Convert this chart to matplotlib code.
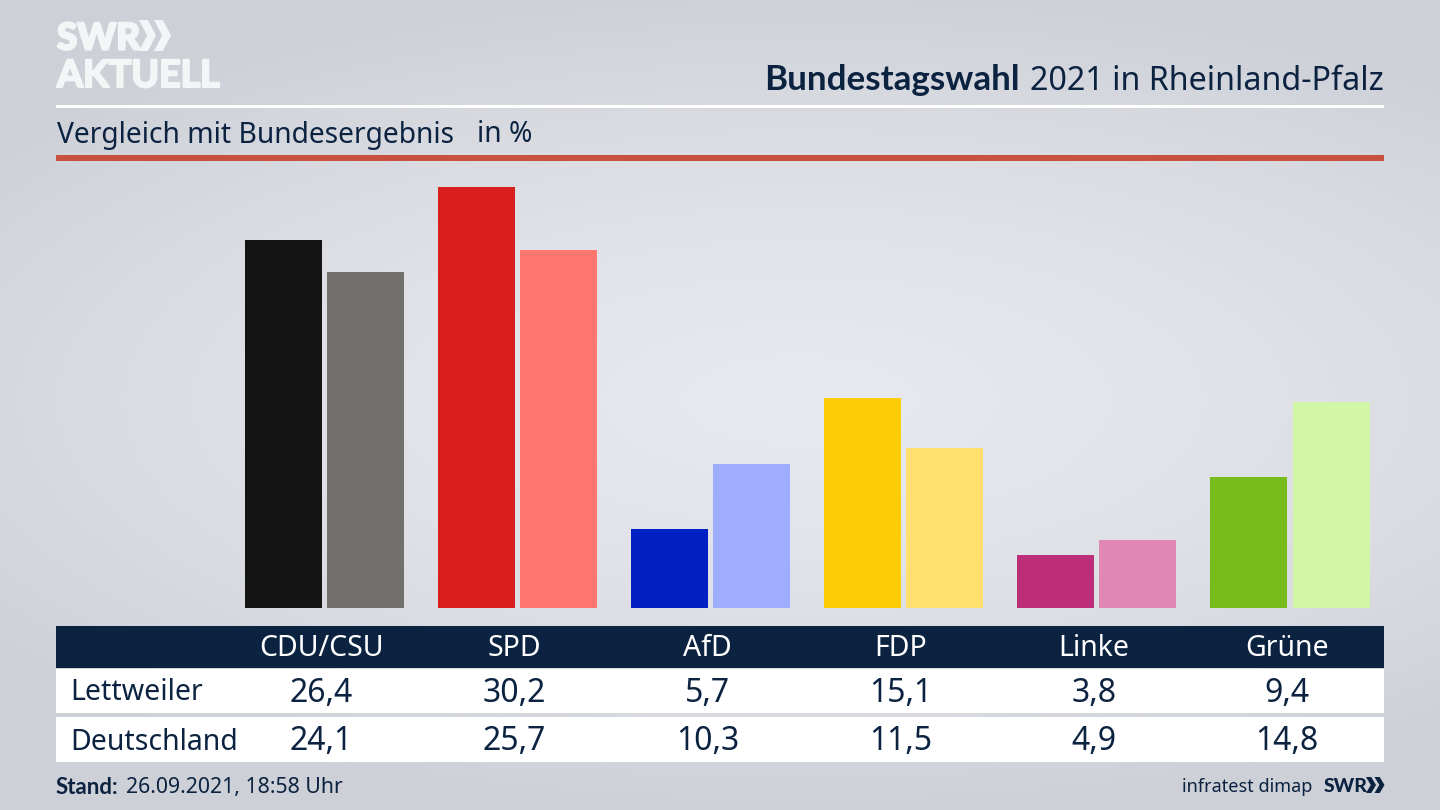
import numpy as np
import matplotlib
matplotlib.use("Agg")
import matplotlib.pyplot as plt
import matplotlib.patheffects as pe
from matplotlib.patches import Rectangle, Polygon

parties = ["CDU/CSU", "SPD", "AfD", "FDP", "Linke", "Grüne"]
row_names = ["Lettweiler", "Deutschland"]
lettweiler = [26.4, 30.2, 5.7, 15.1, 3.8, 9.4]
deutschland = [24.1, 25.7, 10.3, 11.5, 4.9, 14.8]
colors_a = ["#141414", "#d91f1d", "#0020c4", "#ffcc0a", "#bc2f78", "#78bc1c"]
colors_b = ["#72706d", "#ff7570", "#9fadff", "#ffe06e", "#e087b6", "#d3f5a8"]

W, H = 1440, 810
NAVY = "#0b2240"
BOLD = ["Lato", "DejaVu Sans"]
plt.rcParams["font.family"] = ["Noto Sans", "DejaVu Sans"]

fig = plt.figure(figsize=(W / 100, H / 100), dpi=100)

# background and furniture in pixel coordinates
bg = fig.add_axes([0, 0, 1, 1])
bg.set_xlim(0, W); bg.set_ylim(H, 0); bg.axis("off")
yy, xx = np.mgrid[0:H, 0:W]
d = np.sqrt(((xx - 800) / 1050) ** 2 + ((yy - 400) / 420) ** 2)
t = np.clip(d, 0, 1) ** 1.5
c0, c1 = np.array([232, 233, 238]) / 255, np.array([205, 208, 215]) / 255
img = c0[None, None, :] * (1 - t[..., None]) + c1[None, None, :] * t[..., None]
bg.imshow(img, extent=(0, W, H, 0), aspect="auto", zorder=0)

def rect(x0, y0, x1, y1, color, z=1):
    bg.add_patch(Rectangle((x0, y0), x1 - x0, y1 - y0, facecolor=color, edgecolor="none", zorder=z))

def chevrons(x, y0, y1, w, gap, color):
    m = (y0 + y1) / 2
    th = w * 0.52
    for k in range(2):
        xs = x + k * gap
        bg.add_patch(Polygon([(xs, y0), (xs + th, y0), (xs + w, m), (xs + th, y1), (xs, y1), (xs + w - th, m)],
                             closed=True, facecolor=color, edgecolor="none", zorder=3))

rect(56, 104.5, 1384, 107.5, "#ffffff")
rect(56, 155, 1384, 160.5, "#c9503c")
rect(56, 626, 1384, 668, NAVY)
rect(56, 668.5, 1384, 713, "#ffffff")
rect(56, 717, 1384, 762, "#ffffff")

# bars
y_base, y_top = 608, 187
ax = fig.add_axes([0, 1 - y_base / H, 1, (y_base - y_top) / H])
ax.patch.set_alpha(0)
ax.axis("off")
ax.set_xlim(0, W)
ax.set_ylim(0, 30.2)
idx = np.arange(len(parties))
centres = 321.5 + 193.1 * idx
bar_w = 77
ax.bar(283.5 + 193 * idx, lettweiler, width=bar_w, color=colors_a, linewidth=0)
ax.bar(365.5 + 193.1 * idx, deutschland, width=bar_w, color=colors_b, linewidth=0)

# header
thick = [pe.withStroke(linewidth=1.6, foreground="#f4f5f7")]
bg.text(57, 38.5, "SWR", color="#f4f5f7", fontsize=26.5, fontweight="black", va="center", ha="left",
        family=BOLD, zorder=3, path_effects=thick)
chevrons(139, 20, 51, 17, 15, "#f4f5f7")
bg.text(57, 76, "AKTUELL", color="#f4f5f7", fontsize=27, fontweight="bold", va="center", ha="left",
        family=BOLD, zorder=3, path_effects=thick)

bg.text(1384, 82, "2021 in Rheinland-Pfalz", color=NAVY, fontsize=23.2, ha="right", va="center", zorder=3)
bg.text(1020, 80, "Bundestagswahl", color=NAVY, fontsize=25.2, fontweight="bold", ha="right", va="center",
        family=BOLD, zorder=3)
bg.text(57, 135, "Vergleich mit Bundesergebnis", color=NAVY, fontsize=20.3, va="center", zorder=3)
bg.text(477, 135, "in %", color=NAVY, fontsize=20.3, va="center", zorder=3)

# table
for c, p, a, b in zip(centres, parties, lettweiler, deutschland):
    bg.text(c, 649, p, color="white", fontsize=20.5, ha="center", va="center", zorder=3)
    bg.text(c, 694, f"{a:.1f}".replace(".", ","), color=NAVY, fontsize=23, ha="center", va="center", zorder=3)
    bg.text(c, 742, f"{b:.1f}".replace(".", ","), color=NAVY, fontsize=23, ha="center", va="center", zorder=3)
bg.text(70, 693, row_names[0], color=NAVY, fontsize=20.5, va="center", zorder=3)
bg.text(70, 742, row_names[1], color=NAVY, fontsize=20.5, va="center", zorder=3)

# footer
bg.text(56, 787, "Stand:", color=NAVY, fontsize=16, fontweight="bold", va="center", family=BOLD, zorder=3)
bg.text(126, 787, "26.09.2021, 18:58 Uhr", color=NAVY, fontsize=15.3, va="center", zorder=3)
bg.text(1312, 787, "infratest dimap", color=NAVY, fontsize=13, ha="right", va="center", zorder=3)
bg.text(1324, 786, "SWR", color=NAVY, fontsize=14, fontweight="black", ha="left", va="center",
        family=BOLD, zorder=3)
chevrons(1366, 777, 793, 10, 8.5, NAVY)

fig.savefig("out.png", dpi=100)
